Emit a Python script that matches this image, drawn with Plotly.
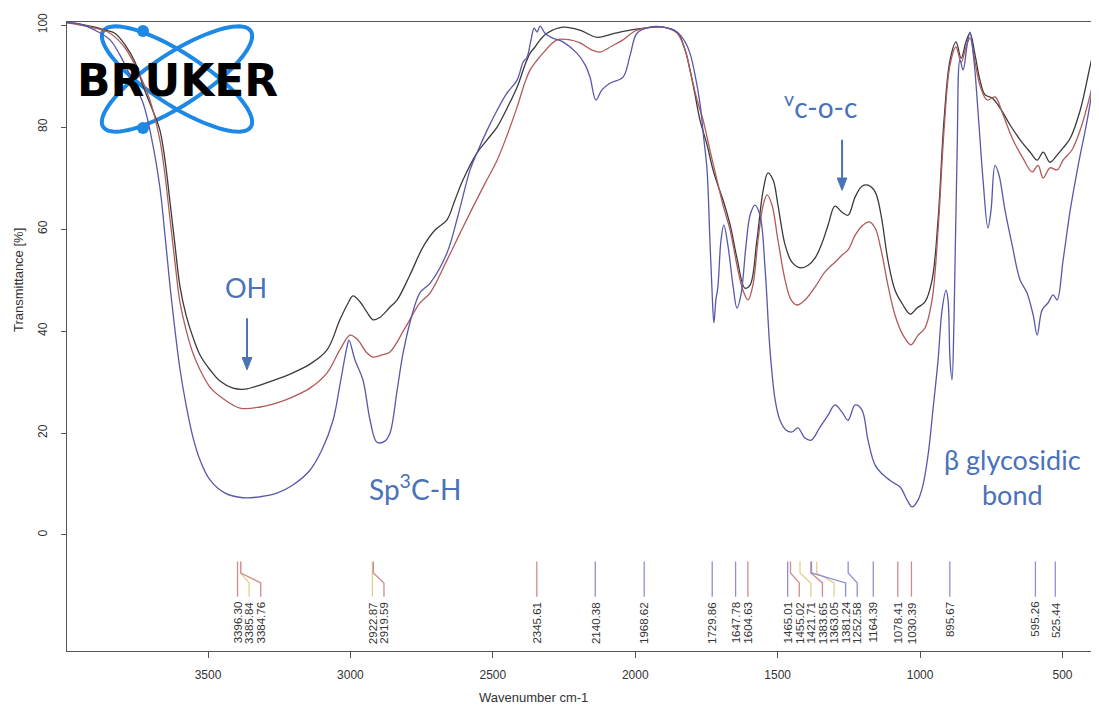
import numpy as np
import plotly.graph_objects as go

# ---------------- data ----------------
black_wn = [3995, 3949, 3897, 3862, 3827, 3791, 3756, 3727, 3697, 3669, 3651, 3633, 3616, 3598, 3577, 3553,
            3528, 3493, 3458, 3412, 3370, 3317, 3265, 3202, 3142, 3082, 3037, 3008, 2991, 2966, 2942, 2921,
            2896, 2861, 2836, 2791, 2745, 2703, 2661, 2633, 2605, 2556, 2520, 2485, 2450, 2415, 2387, 2369,
            2352, 2334, 2310, 2254, 2194, 2134, 2071, 2018, 1966, 1902, 1853, 1825, 1808, 1790, 1773, 1748,
            1727, 1710, 1692, 1667, 1643, 1615, 1597, 1573, 1551, 1534, 1516, 1499, 1474, 1450, 1421, 1393,
            1369, 1344, 1323, 1299, 1274, 1253, 1228, 1204, 1183, 1158, 1137, 1113, 1088, 1060, 1035, 1011,
            983, 958, 937, 916, 895, 874, 856, 839, 825, 807, 790, 772, 747, 719, 684, 649, 614, 589, 568,
            544, 519, 498, 473, 438, 403, 372]
black_T = [100.5, 100.2, 99.6, 99.0, 98.4, 96.1, 92.7, 87.9, 83.7, 79.4, 73.5, 65.1, 56.9, 48.6, 43.1, 38.8,
           35.3, 32.4, 30.2, 28.8, 28.6, 29.4, 30.4, 31.8, 33.5, 36.3, 42.2, 45.5, 46.9, 45.7, 43.7, 42.2,
           42.7, 44.7, 46.1, 51.0, 56.5, 59.8, 61.8, 65.7, 69.6, 74.9, 77.5, 80.0, 83.7, 87.8, 92.2, 94.5,
           95.7, 97.1, 98.4, 99.6, 99.0, 97.6, 98.4, 99.0, 99.4, 99.6, 98.6, 95.1, 91.2, 86.3, 81.4, 76.5,
           71.6, 68.6, 65.7, 60.8, 54.3, 48.4, 49.0, 57.8, 67.6, 71.0, 69.6, 64.7, 56.9, 53.5, 52.4, 52.9,
           54.3, 57.3, 60.8, 64.5, 63.3, 62.7, 66.3, 68.4, 68.6, 67.3, 62.7, 53.9, 48.0, 45.1, 43.3, 44.5,
           45.7, 50.0, 61.8, 81.4, 93.1, 96.7, 93.5, 96.7, 98.4, 94.1, 89.2, 86.3, 85.7, 83.7, 80.4, 77.5,
           75.1, 73.5, 75.1, 73.1, 74.5, 75.9, 77.8, 83.3, 92.0, 99.5]

red_wn = [3995, 3949, 3897, 3844, 3791, 3739, 3704, 3669, 3651, 3633, 3616, 3598, 3574, 3553, 3528, 3493,
          3451, 3388, 3317, 3258, 3202, 3142, 3082, 3037, 3001, 2973, 2945, 2921, 2889, 2861, 2808, 2756,
          2720, 2661, 2615, 2570, 2527, 2485, 2450, 2415, 2387, 2369, 2345, 2324, 2275, 2229, 2194, 2152,
          2124, 2082, 2043, 1994, 1902, 1853, 1825, 1808, 1783, 1762, 1738, 1713, 1692, 1667, 1643, 1622,
          1604, 1587, 1569, 1551, 1537, 1520, 1499, 1474, 1453, 1432, 1404, 1369, 1334, 1299, 1274, 1253,
          1228, 1204, 1179, 1158, 1137, 1113, 1088, 1060, 1032, 1007, 983, 958, 937, 916, 895, 874, 856,
          839, 825, 807, 790, 765, 737, 709, 674, 639, 607, 586, 568, 544, 519, 498, 467, 438, 403, 372]
red_T = [100.5, 100.0, 99.4, 98.4, 95.5, 90.2, 85.3, 77.5, 70.6, 61.8, 53.5, 45.5, 39.6, 35.7, 32.4, 29.0,
         26.9, 24.9, 25.1, 25.9, 27.1, 28.8, 31.8, 36.3, 39.2, 38.2, 35.9, 34.9, 35.3, 35.9, 40.6, 45.5,
         47.5, 53.9, 59.2, 64.3, 69.0, 73.5, 78.4, 83.9, 88.8, 91.2, 93.1, 94.5, 97.1, 97.1, 96.5, 95.1,
         94.7, 95.9, 97.1, 99.0, 99.6, 98.4, 95.1, 91.2, 85.3, 81.4, 75.5, 69.6, 64.7, 59.8, 52.9, 48.0,
         46.1, 49.0, 57.8, 64.7, 66.7, 64.7, 57.8, 50.0, 46.1, 45.1, 46.1, 48.6, 51.6, 53.5, 54.9, 55.9,
         58.8, 60.6, 61.4, 60.2, 55.9, 49.0, 43.1, 39.2, 37.3, 39.2, 40.6, 46.1, 59.8, 79.4, 92.2, 95.7, 92.7,
         95.7, 97.5, 92.7, 88.2, 85.3, 85.9, 82.4, 77.5, 73.9, 71.2, 72.5, 70.0, 72.0, 71.6, 73.5, 75.5,
         79.4, 86.3, 94.1]

blue_wn = [3995, 3949, 3897, 3844, 3809, 3774, 3728, 3697, 3669, 3651, 3633, 3616, 3598, 3577, 3553, 3528,
           3493, 3440, 3377, 3317, 3258, 3202, 3142, 3100, 3061, 3037, 3012, 3005, 2984, 2956, 2931, 2907,
           2879, 2861, 2836, 2815, 2784, 2756, 2720, 2661, 2622, 2580, 2556, 2520, 2485, 2450, 2415, 2394,
           2380, 2366, 2355, 2345, 2334, 2317, 2292, 2254, 2205, 2176, 2159, 2138, 2117, 2089, 2043, 2018,
           1994, 1948, 1902, 1853, 1825, 1808, 1790, 1773, 1759, 1748, 1738, 1731, 1724, 1717, 1710, 1699,
           1689, 1675, 1657, 1643, 1629, 1611, 1597, 1580, 1562, 1544, 1527, 1509, 1492, 1471, 1450, 1429,
           1404, 1382, 1353, 1323, 1299, 1274, 1253, 1228, 1204, 1183, 1158, 1130, 1098, 1070, 1046, 1028,
           1007, 990, 972, 955, 937, 923, 909, 902, 895, 888, 881, 870, 860, 849, 835, 825, 811, 797, 779,
           762, 751, 737, 723, 702, 677, 649, 625, 603, 589, 572, 551, 533, 519, 498, 473, 445, 410, 372]
blue_T = [100.5, 100.2, 99.0, 97.1, 94.1, 90.2, 84.7, 77.5, 68.2, 58.8, 48.6, 40.2, 32.4, 25.5, 19.2, 14.7,
          10.8, 8.2, 7.3, 7.5, 8.2, 9.8, 12.7, 16.7, 22.5, 29.4, 36.9, 38.2, 34.3, 30.4, 22.5, 18.2,
          18.4, 20.0, 28.4, 35.7, 43.1, 47.5, 49.4, 55.3, 62.7, 71.6, 74.9, 79.4, 83.3, 86.7, 89.2, 92.7,
          93.7, 97.1, 99.4, 98.6, 99.8, 98.4, 97.5, 96.7, 94.5, 92.2, 89.8, 85.3, 87.3, 88.6, 89.8, 94.1,
          98.4, 99.6, 99.6, 98.6, 96.7, 94.5, 90.2, 84.7, 77.5, 71.6, 57.8, 48.6, 41.6, 46.1, 48.6, 57.8,
          60.8, 56.9, 49.0, 44.5, 47.1, 56.9, 62.7, 64.7, 62.7, 52.0, 36.3, 26.5, 22.5, 20.6, 20.2, 21.0,
          19.0, 18.6, 21.0, 23.5, 25.5, 24.1, 22.5, 25.5, 24.5, 18.6, 13.7, 11.8, 10.4, 9.4, 6.9, 5.5,
          6.9, 9.8, 15.7, 24.5, 34.3, 44.1, 48.0, 46.1, 34.3, 30.4, 42.2, 75.5, 93.1, 91.2, 96.1, 98.6, 93.1,
          83.3, 69.6, 60.2, 63.7, 72.5, 70.6, 63.7, 56.9, 50.0, 47.5, 43.1, 39.2, 44.1, 45.5, 47.1, 46.1,
          53.9, 63.7, 72.5, 82.4, 96.1]

peak_wn = [3396.30, 3385.84, 3384.76, 2922.87, 2919.59, 2345.61, 2140.38, 1968.62, 1729.86, 1647.78,
           1604.63, 1465.01, 1455.02, 1421.71, 1383.65, 1363.05, 1381.24, 1252.58, 1164.39, 1078.41,
           1030.39, 895.67, 595.26, 525.44]
peak_series = ["red", "black", "red", "black", "red", "red", "blue", "blue", "blue", "blue",
               "red", "blue", "red", "black", "red", "black", "blue", "blue", "blue", "red",
               "red", "blue", "blue", "blue"]

x_ticks = [3500, 3000, 2500, 2000, 1500, 1000, 500]
y_ticks = [0, 20, 40, 60, 80, 100]

# ---------------- styles / layout geometry ----------------
curve_colors = {"black": "#3a3a3a", "red": "#b25a5a", "blue": "#5858aa"}
peak_colors = {"black": "#e2cf8e", "red": "#cf8c8c", "blue": "#8e8ed2"}
ann_blue = "#4a72b8"
OFF = 8                      # page body margin of the html page
W, H = 1099 - OFF, 706 - OFF
L, R, T, B = 67 - OFF, 2, 22 - OFF, 55
pw, ph = W - L - R, H - T - B
X_RANGE = [3995, 379]
tick_font = dict(family="Liberation Sans, Arial", size=12, color="#333")

fig = go.Figure()

for name, xs, ys in [("black", black_wn, black_T), ("red", red_wn, red_T), ("blue", blue_wn, blue_T)]:
    fig.add_trace(go.Scatter(x=xs, y=ys, mode="lines", line=dict(color=curve_colors[name], width=1.3),
                             line_shape="spline", showlegend=False, hoverinfo="skip"))

# peak markers with leader lines
gap = 40.7
prev = None
annotations = []
for wn, ser in zip(peak_wn, peak_series):
    slot = wn if prev is None else min(wn, prev - gap)
    prev = slot
    fig.add_trace(go.Scatter(x=[wn, wn, slot, slot], y=[-5.2, -7.45, -9.4, -12.1], mode="lines",
                             line=dict(color=peak_colors[ser], width=1.3), showlegend=False,
                             hoverinfo="skip"))
    annotations.append(dict(x=slot, y=-12.7, xref="x", yref="y", text=f"{wn:.2f}", showarrow=False,
                            textangle=-90, xanchor="center", yanchor="top",
                            font=dict(family="Liberation Sans, Arial", size=11.5, color="#333")))

# invisible helper trace so the label axis (x2) is drawn
fig.add_trace(go.Scatter(x=[x_ticks[0]], y=[y_ticks[0]], xaxis="x2", mode="markers",
                         marker=dict(opacity=0), showlegend=False, hoverinfo="skip"))


def px(x):
    return (x - OFF - L) / pw


def py(y):
    return (H - B - (y - OFF)) / ph


# Bruker logo (decoration)
shapes = []
cx, cy, a, b = 177, 79, 88, 26
t = np.linspace(0, 2 * np.pi, 80)
for th in (np.radians(33), np.radians(-33)):
    xs = cx + a * np.cos(t) * np.cos(th) - b * np.sin(t) * np.sin(th)
    ys = cy + a * np.cos(t) * np.sin(th) + b * np.sin(t) * np.cos(th)
    path = "M " + " L ".join(f"{px(x):.5f},{py(y):.5f}" for x, y in zip(xs, ys)) + " Z"
    shapes.append(dict(type="path", path=path, xref="paper", yref="paper",
                       line=dict(color="#1e88e5", width=4), layer="below"))
for (dx, dy) in [(143, 31), (143, 128)]:
    r = 6
    shapes.append(dict(type="circle", xref="paper", yref="paper", x0=px(dx - r), x1=px(dx + r),
                       y0=py(dy + r), y1=py(dy - r), fillcolor="#1e88e5", line=dict(width=0),
                       layer="below"))

# arrows (decoration)
for ax_wn, tail, head in [(3363, 42.5, 32.4), (1274, 77.5, 67.6)]:
    shapes.append(dict(type="line", xref="x", yref="y", x0=ax_wn, x1=ax_wn, y0=tail, y1=head + 1.6,
                       line=dict(color=ann_blue, width=2)))
    shapes.append(dict(type="path", xref="x", yref="y",
                       path=f"M {ax_wn - 17},{head + 2.4} L {ax_wn + 17},{head + 2.4} L {ax_wn},{head} Z",
                       fillcolor=ann_blue, line=dict(color=ann_blue, width=1)))

annotations.append(dict(x=px(177), y=py(81), xref="paper", yref="paper", text="<b>BRUKER</b>",
                        showarrow=False, xanchor="center", yanchor="middle",
                        font=dict(family="DejaVu Sans", size=44, color="black")))

# band annotations
annotations += [
    dict(x=3367, y=48.6, text="OH", showarrow=False, font=dict(family="Lato", size=27, color=ann_blue)),
    dict(x=2773, y=9.4, text="Sp<sup>3</sup>C-H", showarrow=False,
         font=dict(family="Lato", size=28, color=ann_blue)),
    dict(x=1348, y=84.3, text="<sup>v</sup>c-o-c", showarrow=False,
         font=dict(family="Lato", size=28, color=ann_blue)),
    dict(x=677, y=11.4, text="β glycosidic<br>bond", showarrow=False, align="center",
         font=dict(family="Lato", size=27, color=ann_blue)),
    # axis titles
    dict(x=px(533), y=py(697), xref="paper", yref="paper", text="Wavenumber cm-1",
         showarrow=False, xanchor="center", yanchor="middle",
         font=dict(family="Liberation Sans, Arial", size=13, color="#333")),
    dict(x=px(18), y=50, xref="paper", yref="y", text="Transmittance [%]", textangle=-90,
         showarrow=False, xanchor="center", yanchor="middle",
         font=dict(family="Liberation Sans, Arial", size=13, color="#333")),
]
for a_ in annotations:
    a_.setdefault("xref", "x")
    a_.setdefault("yref", "y")

fig.update_layout(
    width=W, height=H, margin=dict(l=L, r=R, t=T, b=B),
    paper_bgcolor="white", plot_bgcolor="white",
    shapes=shapes, annotations=annotations,
    xaxis=dict(range=X_RANGE, tickvals=x_ticks, ticks="outside", ticklen=6, tickcolor="#555",
               showticklabels=False,
               showgrid=False, zeroline=False, showline=True, mirror=True, linecolor="#555"),
    xaxis2=dict(range=X_RANGE, tickvals=x_ticks, overlaying="x", anchor="y", side="bottom",
                ticks="outside", ticklen=13, tickcolor="rgba(0,0,0,0)", showline=False,
                showgrid=False, zeroline=False, tickfont=tick_font),
    yaxis=dict(range=[-22.75, 100.6], tickvals=y_ticks, ticks="outside", ticklen=5, tickcolor="#555",
               tickangle=-90, ticklabelstandoff=9,
               showgrid=False, zeroline=False, showline=True, mirror=True, linecolor="#555",
               tickfont=tick_font),
)

fig.write_html("out.html")
